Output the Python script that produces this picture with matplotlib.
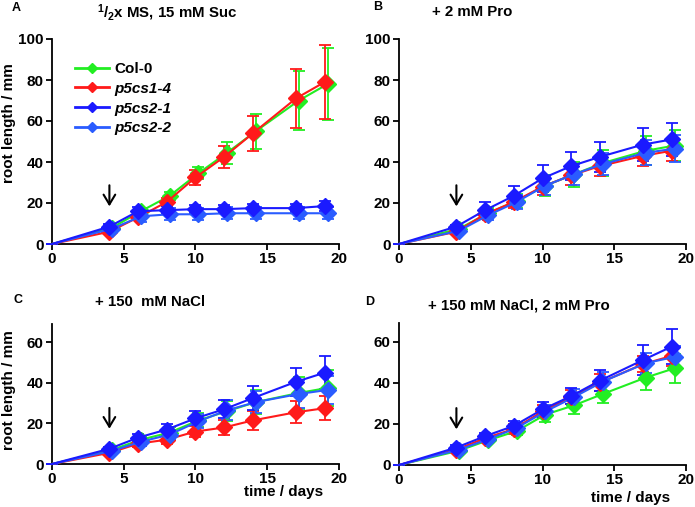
import numpy as np
import matplotlib
matplotlib.use("Agg")
import matplotlib.pyplot as plt
from matplotlib.lines import Line2D

plt.rcParams['font.family'] = ['Liberation Sans', 'DejaVu Sans']
plt.rcParams['font.weight'] = 'bold'
plt.rcParams['mathtext.fontset'] = 'custom'
plt.rcParams['mathtext.bf'] = 'Liberation Sans:bold'
plt.rcParams['mathtext.rm'] = 'Liberation Sans:bold'
plt.rcParams['mathtext.default'] = 'bf'

# -- data --
days = [0, 4, 6, 8, 10, 12, 14, 17, 19]
genotypes = ['Col-0', 'p5cs1-4', 'p5cs2-1', 'p5cs2-2']

# panel A: 1/2x MS, 15 mM Suc
a_col0 = [0, 8, 16, 23.5, 34.5, 44.5, 55, 70, 78]
a_col0_err = [0, 1, 1.5, 2, 3, 5.5, 8.5, 14.5, 17.5]
a_p5cs1_4 = [0, 6, 13, 20.5, 32.5, 42.5, 54, 71, 79]
a_p5cs1_4_err = [0, 1, 1.5, 2, 3.5, 5.5, 8.5, 14.5, 18]
a_p5cs2_1 = [0, 8.5, 16, 16.5, 17, 17, 17.5, 17.5, 18.5]
a_p5cs2_1_err = [0, 1.5, 2, 2, 2, 2, 2, 2, 2.5]
a_p5cs2_2 = [0, 7.5, 13.5, 14.5, 14.5, 15, 15, 15, 15]
a_p5cs2_2_err = [0, 1.5, 3, 3, 3, 3, 3, 3, 3]

# panel B: + 2 mM Pro
b_col0 = [0, 7.5, 15, 21, 28.5, 34, 39.5, 45.5, 48]
b_col0_err = [0, 1, 2.5, 3.5, 5, 6, 6.5, 7, 7.5]
b_p5cs1_4 = [0, 6, 14.5, 20.5, 28, 33.5, 38, 43, 45.5]
b_p5cs1_4_err = [0, 1, 2.5, 3, 4, 4.5, 5, 5, 5]
b_p5cs2_1 = [0, 8.5, 16.5, 23.5, 32, 38, 42.5, 48.5, 51]
b_p5cs2_1_err = [0, 1, 4, 5, 6.5, 7, 7.5, 8, 8]
b_p5cs2_2 = [0, 6.5, 14, 20.5, 28.5, 34, 39, 44.5, 46.5]
b_p5cs2_2_err = [0, 1, 2.5, 3.5, 4.5, 5, 5.5, 6, 6.5]

# panel C: + 150 mM NaCl
c_col0 = [0, 7, 12, 15.5, 21.5, 26, 30.5, 35, 37.5]
c_col0_err = [0, 1, 1.5, 2.5, 3.5, 5, 6, 8, 9]
c_p5cs1_4 = [0, 5.5, 10, 12, 16, 18, 21.5, 25.5, 27.5]
c_p5cs1_4_err = [0, 1, 1.5, 2, 2.5, 3.5, 4.5, 5.5, 5.8]
c_p5cs2_1 = [0, 7.5, 13, 17, 22.5, 27, 32.5, 40.5, 45]
c_p5cs2_1_err = [0, 1, 2, 2.5, 3.5, 4.5, 6, 7, 8]
c_p5cs2_2 = [0, 6.5, 11, 14.5, 21, 26.5, 30.5, 34.5, 36.5]
c_p5cs2_2_err = [0, 1, 2, 2.5, 3.5, 5, 5.5, 7, 7]

# panel D: + 150 mM NaCl, 2 mM Pro
d_col0 = [0, 7, 12, 16.5, 24.5, 29, 34.5, 42.5, 47]
d_col0_err = [0, 1, 1.5, 2, 3.5, 4, 4.5, 6, 7]
d_p5cs1_4 = [0, 7.5, 13, 17.5, 26, 33, 40, 49, 53]
d_p5cs1_4_err = [0, 1, 1.5, 2.5, 3, 3.5, 4, 4, 5]
d_p5cs2_1 = [0, 8.5, 14, 19, 27, 33.5, 41, 51, 57.5]
d_p5cs2_1_err = [0, 1, 1.5, 2.5, 3.5, 4, 5, 7.5, 8.5]
d_p5cs2_2 = [0, 7.5, 12.5, 18, 26, 33, 40.5, 49.5, 52.5]
d_p5cs2_2_err = [0, 1, 1.5, 2.5, 3, 4, 4.5, 5, 5.5]

colors = {'Col-0': '#22ee22', 'p5cs1-4': '#ff1a1a', 'p5cs2-1': '#1a1aff', 'p5cs2-2': '#2a5cff'}
shift = {'Col-0': 0.2, 'p5cs1-4': 0.0, 'p5cs2-1': 0.0, 'p5cs2-2': 0.2}

W, H = 695, 507
fig = plt.figure(figsize=(W / 100, H / 100), dpi=100)


def px_axes(l, t, r, b):
    return fig.add_axes([l / W, 1 - b / H, (r - l) / W, (b - t) / H])


panels = [
    ('A', r'$^{1}$/$_{2}$x MS, 15 mM Suc', px_axes(52, 39, 339, 244), 100,
     [a_col0, a_p5cs1_4, a_p5cs2_1, a_p5cs2_2],
     [a_col0_err, a_p5cs1_4_err, a_p5cs2_1_err, a_p5cs2_2_err], (12, 8), (97, 13), (30, 17)),
    ('B', '+ 2 mM Pro', px_axes(399, 39, 686, 244), 100,
     [b_col0, b_p5cs1_4, b_p5cs2_1, b_p5cs2_2],
     [b_col0_err, b_p5cs1_4_err, b_p5cs2_1_err, b_p5cs2_2_err], (373, 7), (432, 12), (30, 17)),
    ('C', '+ 150  mM NaCl', px_axes(52, 324, 339, 464), 69,
     [c_col0, c_p5cs1_4, c_p5cs2_1, c_p5cs2_2],
     [c_col0_err, c_p5cs1_4_err, c_p5cs2_1_err, c_p5cs2_2_err], (13, 300), (95, 302), (29, 16)),
    ('D', '+ 150 mM NaCl, 2 mM Pro', px_axes(399, 323, 686, 465), 69,
     [d_col0, d_p5cs1_4, d_p5cs2_1, d_p5cs2_2],
     [d_col0_err, d_p5cs1_4_err, d_p5cs2_1_err, d_p5cs2_2_err], (365, 302), (428, 305), (29, 16)),
]

draw_order = [0, 1, 3, 2]
t = np.array(days, dtype=float)

for letter, title, ax, ymax, series, errs, lpos, tpos, arrow in panels:
    for i in draw_order:
        g = genotypes[i]
        x = t + np.where(t > 0, shift[g], 0)
        ax.errorbar(x, series[i], yerr=errs[i], color=colors[g], ecolor=colors[g],
                    marker='D', markersize=8.5, markevery=list(range(1, len(days))),
                    lw=1.5, elinewidth=1.3, capsize=4, capthick=1.3,
                    clip_on=False, zorder=3)
    ax.set_xlim(0, 20)
    ax.set_ylim(0, ymax)
    ax.set_xticks([0, 5, 10, 15, 20])
    ax.set_yticks(range(0, ymax + 1, 20))
    for s in ['top', 'right']:
        ax.spines[s].set_visible(False)
    for s in ['left', 'bottom']:
        ax.spines[s].set_linewidth(1.3)
    ax.tick_params(direction='out', length=4, width=1.3, labelsize=11, pad=2)
    for lab in ax.get_xticklabels() + ax.get_yticklabels():
        lab.set_fontweight('bold')
    ax.annotate('', xy=(4, arrow[1]), xytext=(4, arrow[0]),
                arrowprops=dict(arrowstyle='->,head_length=0.5,head_width=0.3',
                                color='black', lw=1.5, mutation_scale=14))
    fig.text(lpos[0] / W, 1 - lpos[1] / H, letter, fontsize=9, fontweight='bold',
             ha='left', va='center')
    fig.text(tpos[0] / W, 1 - tpos[1] / H, title, fontsize=10.8, fontweight='bold',
             ha='left', va='center')

axA, axC = panels[0][2], panels[2][2]
fig.text(9 / W, 1 - 123 / H, 'root length / mm', rotation=90, fontsize=11,
         fontweight='bold', ha='center', va='center')
fig.text(9 / W, 1 - 390 / H, 'root length / mm', rotation=90, fontsize=11,
         fontweight='bold', ha='center', va='center')
for ax, yoff in [(axC, -0.2), (panels[3][2], -0.23)]:
    ax.text(0.944, yoff, 'time / days', transform=ax.transAxes, ha='right', va='center',
            fontsize=11, fontweight='bold')

# legend with plain line + small diamond
handles = [Line2D([], [], color=colors[g], marker='D', markersize=5, lw=2) for g in genotypes]
leg = axA.legend(handles, genotypes,
                 loc='upper left', bbox_to_anchor=(75 / W, 1 - 62 / H),
                 bbox_transform=fig.transFigure, frameon=False, fontsize=11,
                 handlelength=2.2, handletextpad=0.4, labelspacing=0.38,
                 borderpad=0, borderaxespad=0)
for k, txt in enumerate(leg.get_texts()):
    txt.set_fontweight('bold')
    if k > 0:
        txt.set_fontstyle('italic')

fig.savefig('out.png', dpi=100)
